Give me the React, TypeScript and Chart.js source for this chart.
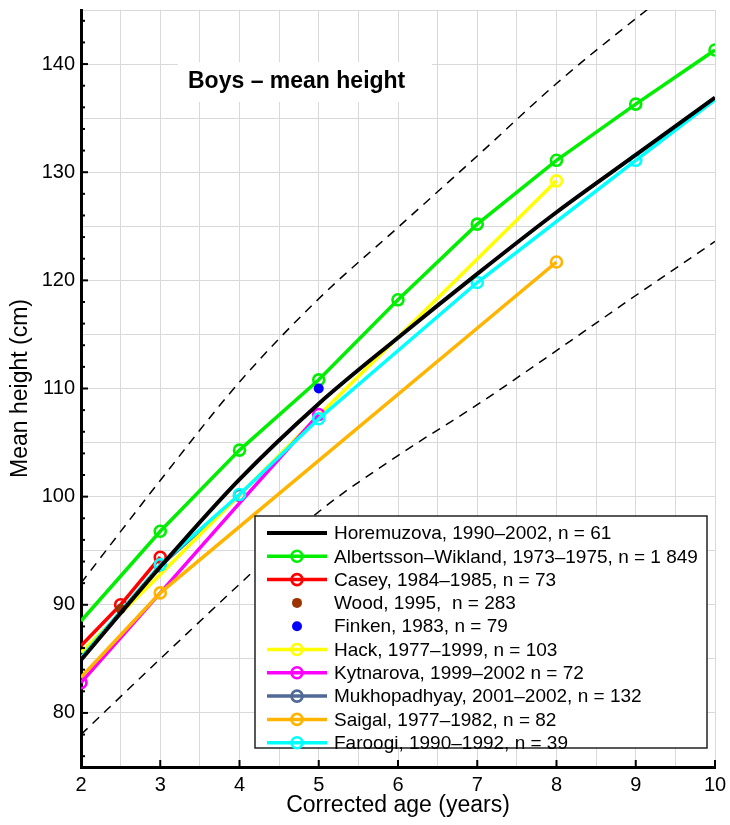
import React, { useEffect, useRef } from "react";
import { Chart, registerables } from "chart.js";
Chart.register(...registerables);

// ---- data (age in years, mean height in cm) ----
const horemuzova = [[2, 84.9], [3, 93.5], [4, 101.6], [5, 108.6], [6, 114.7], [7, 120.6], [8, 126.3], [9, 131.6], [10, 136.9]];
const albertsson = [[2, 88.5], [3, 96.8], [4, 104.3], [5, 110.8], [6, 118.2], [7, 125.2], [8, 131.1], [9, 136.3], [10, 141.3]];
const casey = [[2, 86.2], [2.5, 90.0], [3, 94.4]];
const wood = [[2.5, 89.6]];
const finken = [[5, 110.0]];
const hack = [[2, 85.6], [3, 92.8], [5, 107.5], [8, 129.2]];
const kytnarova = [[2, 82.8], [3, 91.1], [4, 99.4], [5, 107.6]];
const mukhopadhyay = [[3, 93.6], [4, 100.1]];
const saigal = [[2, 83.3], [3, 91.1], [8, 121.7]];
const faroogi = [[2, 85.1], [3, 93.7], [4, 100.2], [5, 107.2], [7, 119.8], [9, 131.1], [10, 136.7]];
const upperSD = [[2, 92.0], [3, 101.5], [4, 110.6], [5, 118.3], [6, 124.9], [7, 131.5], [8, 138.2], [9, 144.2], [10, 149.8]];
const lowerSD = [[2, 78.0], [3, 85.0], [4, 91.9], [5, 98.6], [6, 103.8], [7, 108.5], [8, 113.5], [9, 118.6], [10, 123.6]];

const xTicks = [2, 3, 4, 5, 6, 7, 8, 9, 10];
const yTickLabels = [80, 90, 100, 110, 120, 130, 140];

const titleText = "Boys \u2013 mean height";
const xTitle = "Corrected age (years)";
const yTitle = "Mean height (cm)";

const FONT = "'Liberation Sans', Arial, Helvetica, sans-serif";

const pts = (a: number[][]) => a.map(([x, y]) => ({ x, y }));

function ringSeries(label: string, data: number[][], color: string, order: number, hidden: number[] = []) {
  return {
    label,
    data: pts(data),
    borderColor: color,
    backgroundColor: color,
    borderWidth: 3.5,
    pointRadius: data.map(([x]) => (hidden.includes(x) ? 0 : 5.5)),
    pointBorderWidth: 2.6,
    pointBorderColor: color,
    pointBackgroundColor: "rgba(0,0,0,0)",
    tension: 0,
    order,
    _legend: "ring",
  } as any;
}

function dotSeries(label: string, data: number[][], color: string, order: number) {
  return {
    label,
    data: pts(data),
    showLine: false,
    borderColor: color,
    backgroundColor: color,
    pointRadius: 5,
    pointBorderWidth: 0,
    pointBackgroundColor: color,
    order,
    _legend: "dot",
  } as any;
}

const zeroPad = (s: any) => {
  s.paddingTop = 0;
  s.paddingBottom = 0;
  s.paddingLeft = 0;
  s.paddingRight = 0;
};

const decorPlugin = {
  id: "decor",
  beforeDatasetsDraw(chart: any) {
    const { ctx } = chart;
    ctx.save();
    ctx.fillStyle = "#ffffff";
    ctx.fillRect(178, 62, 254, 40);
    ctx.fillStyle = "#000";
    ctx.font = `bold 23px ${FONT}`;
    ctx.textAlign = "left";
    ctx.textBaseline = "middle";
    ctx.fillText(titleText, 188, 82);
    ctx.restore();
  },
  afterDraw(chart: any) {
    const { ctx, scales } = chart;
    const xs = scales.x;
    const ys = scales.y;
    const area = chart.chartArea;
    ctx.save();
    // inward tick marks
    ctx.strokeStyle = "#000";
    ctx.lineWidth = 2;
    for (let v = 76; v <= 144; v += 2) {
      const py = ys.getPixelForValue(v);
      const len = v % 10 === 0 ? 7 : 4;
      ctx.beginPath();
      ctx.moveTo(area.left, py);
      ctx.lineTo(area.left + len, py);
      ctx.stroke();
    }
    for (const v of xTicks) {
      const px = xs.getPixelForValue(v);
      ctx.beginPath();
      ctx.moveTo(px, area.bottom);
      ctx.lineTo(px, area.bottom - 7);
      ctx.stroke();
    }
    // axis titles
    ctx.fillStyle = "#000";
    ctx.font = `23px ${FONT}`;
    ctx.textAlign = "center";
    ctx.textBaseline = "middle";
    ctx.fillText(xTitle, (area.left + area.right) / 2, 806);
    ctx.save();
    ctx.translate(21, (area.top + area.bottom) / 2);
    ctx.rotate(-Math.PI / 2);
    ctx.fillText(yTitle, 0, 0);
    ctx.restore();

    // legend
    const lx = 255, ly = 516, lw = 452, lh = 232;
    ctx.fillStyle = "#fff";
    ctx.fillRect(lx, ly, lw, lh);
    ctx.strokeStyle = "#222";
    ctx.lineWidth = 1.5;
    ctx.strokeRect(lx, ly, lw, lh);
    const items = chart.data.datasets.filter((d: any) => d._legend);
    items.forEach((d: any, i: number) => {
      const cy = 533 + i * 23.3;
      if (d._legend !== "dot") {
        ctx.strokeStyle = d.borderColor;
        ctx.lineWidth = d.borderWidth;
        ctx.setLineDash([]);
        ctx.beginPath();
        ctx.moveTo(267, cy);
        ctx.lineTo(327, cy);
        ctx.stroke();
      }
      if (d._legend === "ring") {
        ctx.lineWidth = 2.6;
        ctx.beginPath();
        ctx.arc(297, cy, 5.5, 0, Math.PI * 2);
        ctx.stroke();
      } else if (d._legend === "dot") {
        ctx.fillStyle = d.backgroundColor;
        ctx.beginPath();
        ctx.arc(297, cy, 5, 0, Math.PI * 2);
        ctx.fill();
      }
      ctx.fillStyle = "#000";
      ctx.font = `19px ${FONT}`;
      ctx.textAlign = "left";
      ctx.textBaseline = "middle";
      ctx.fillText(d.label, 334, cy + 1);
    });
    ctx.restore();
  },
};

export default function App() {
  const ref = useRef<HTMLCanvasElement>(null);
  useEffect(() => {
    document.body.style.margin = "0";
    const datasets: any[] = [
      {
        label: "Horemuzova, 1990\u20132002, n = 61",
        data: pts(horemuzova),
        borderColor: "#000000",
        backgroundColor: "#000000",
        borderWidth: 4,
        pointRadius: 0,
        cubicInterpolationMode: "monotone",
        order: 0,
        _legend: "line",
      },
      ringSeries("Albertsson\u2013Wikland, 1973\u20131975, n = 1 849", albertsson, "#00ee00", 6, [2]),
      ringSeries("Casey, 1984\u20131985, n = 73", casey, "#ff0000", 5, [2]),
      dotSeries("Wood, 1995,  n = 283", wood, "#993300", 1),
      dotSeries("Finken, 1983, n = 79", finken, "#0000ff", 1),
      ringSeries("Hack, 1977\u20131999, n = 103", hack, "#ffff00", 4, [2, 3, 5]),
      ringSeries("Kytnarova, 1999\u20132002 n = 72", kytnarova, "#ff00ff", 3, [3, 4]),
      ringSeries("Mukhopadhyay, 2001\u20132002, n = 132", mukhopadhyay, "#506a98", 7),
      ringSeries("Saigal, 1977\u20131982, n = 82", saigal, "#ffb400", 2, [2]),
      ringSeries("Faroogi, 1990\u20131992, n = 39", faroogi, "#00ffff", 1, [2, 10]),
      {
        label: "+2 SD",
        data: pts(upperSD),
        borderColor: "#000",
        borderWidth: 1.5,
        borderDash: [9, 7],
        pointRadius: 0,
        cubicInterpolationMode: "monotone",
        order: 8,
      },
      {
        label: "-2 SD",
        data: pts(lowerSD),
        borderColor: "#000",
        borderWidth: 1.5,
        borderDash: [9, 7],
        pointRadius: 0,
        cubicInterpolationMode: "monotone",
        order: 8,
      },
    ];
    const chart = new Chart(ref.current!, {
      type: "line",
      data: { datasets },
      options: {
        animation: false,
        responsive: false,
        layout: { padding: { left: 0, top: 10, right: 15, bottom: 0 } },
        plugins: { legend: { display: false }, tooltip: { enabled: false } },
        scales: {
          x: {
            type: "linear",
            min: 2,
            max: 10,
            afterFit: (s: any) => { s.height = 58; zeroPad(s); },
            afterBuildTicks: (s: any) => {
              const t = [];
              for (let v = 2; v <= 10; v += 0.5) t.push({ value: v });
              s.ticks = t;
            },
            ticks: {
              autoSkip: false,
              maxRotation: 0,
              padding: 6,
              color: "#000",
              font: { family: FONT, size: 20 },
              callback: (v: any) => (xTicks.includes(Number(v)) ? String(v) : ""),
            },
            grid: { color: "#d9d9d9", lineWidth: 1, drawTicks: false },
            border: { display: true, color: "#000", width: 3 },
          },
          y: {
            type: "linear",
            min: 75,
            max: 145,
            afterFit: (s: any) => { s.width = 81; zeroPad(s); },
            afterBuildTicks: (s: any) => {
              const t = [];
              for (let v = 75; v <= 145; v += 5) t.push({ value: v });
              s.ticks = t;
            },
            ticks: {
              autoSkip: false,
              padding: 6,
              color: "#000",
              font: { family: FONT, size: 20 },
              callback: (v: any) => (yTickLabels.includes(Number(v)) ? String(v) : ""),
            },
            grid: { color: "#d9d9d9", lineWidth: 1, drawTicks: false },
            border: { display: true, color: "#000", width: 3 },
          },
        },
      },
      plugins: [decorPlugin],
    } as any);
    return () => chart.destroy();
  }, []);
  return (
    <div style={{ position: "absolute", left: 0, top: 0, width: 730, height: 825 }}>
      <canvas ref={ref} width={730} height={825} style={{ width: 730, height: 825 }} />
    </div>
  );
}
